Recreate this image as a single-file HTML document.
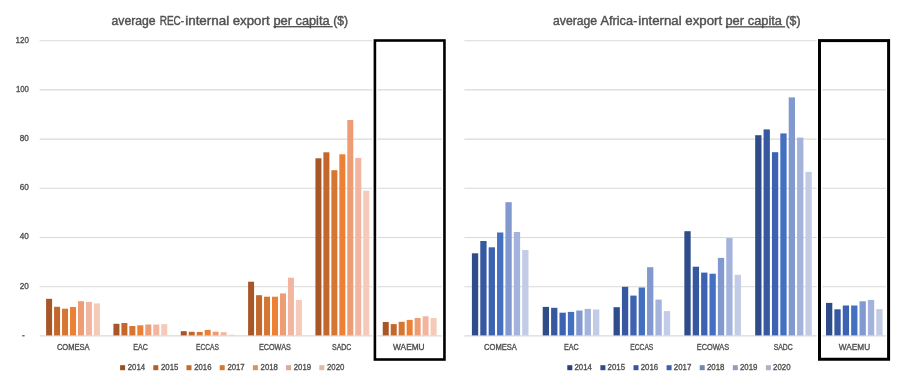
<!DOCTYPE html>
<html><head><meta charset="utf-8"><style>
html,body{margin:0;padding:0;background:#fff;width:900px;height:388px;overflow:hidden}
svg{display:block;will-change:transform}
</style></head><body>
<svg width="900" height="388" viewBox="0 0 900 388">
<rect width="900" height="388" fill="#fff"/>
<line x1="39.6" y1="40.70" x2="443" y2="40.70" stroke="#D9D9D9" stroke-width="1.1"/>
<line x1="464.4" y1="40.70" x2="887" y2="40.70" stroke="#D9D9D9" stroke-width="1.1"/>
<line x1="39.6" y1="89.90" x2="443" y2="89.90" stroke="#D9D9D9" stroke-width="1.1"/>
<line x1="464.4" y1="89.90" x2="887" y2="89.90" stroke="#D9D9D9" stroke-width="1.1"/>
<line x1="39.6" y1="139.10" x2="443" y2="139.10" stroke="#D9D9D9" stroke-width="1.1"/>
<line x1="464.4" y1="139.10" x2="887" y2="139.10" stroke="#D9D9D9" stroke-width="1.1"/>
<line x1="39.6" y1="188.30" x2="443" y2="188.30" stroke="#D9D9D9" stroke-width="1.1"/>
<line x1="464.4" y1="188.30" x2="887" y2="188.30" stroke="#D9D9D9" stroke-width="1.1"/>
<line x1="39.6" y1="237.50" x2="443" y2="237.50" stroke="#D9D9D9" stroke-width="1.1"/>
<line x1="464.4" y1="237.50" x2="887" y2="237.50" stroke="#D9D9D9" stroke-width="1.1"/>
<line x1="39.6" y1="286.70" x2="443" y2="286.70" stroke="#D9D9D9" stroke-width="1.1"/>
<line x1="464.4" y1="286.70" x2="887" y2="286.70" stroke="#D9D9D9" stroke-width="1.1"/>
<line x1="39.6" y1="335.90" x2="443" y2="335.90" stroke="#D9D9D9" stroke-width="1.1"/>
<line x1="464.4" y1="335.90" x2="887" y2="335.90" stroke="#D9D9D9" stroke-width="1.1"/>
<text x="15.50" y="42.50" textLength="13.4" lengthAdjust="spacingAndGlyphs" font-size="8.6" fill="#505050" stroke="#505050" stroke-width="0.35" font-family="Liberation Sans, sans-serif">120</text>
<text x="15.90" y="91.70" textLength="13.0" lengthAdjust="spacingAndGlyphs" font-size="8.6" fill="#505050" stroke="#505050" stroke-width="0.35" font-family="Liberation Sans, sans-serif">100</text>
<text x="19.80" y="140.90" textLength="9.1" lengthAdjust="spacingAndGlyphs" font-size="8.6" fill="#505050" stroke="#505050" stroke-width="0.35" font-family="Liberation Sans, sans-serif">80</text>
<text x="19.80" y="190.10" textLength="9.1" lengthAdjust="spacingAndGlyphs" font-size="8.6" fill="#505050" stroke="#505050" stroke-width="0.35" font-family="Liberation Sans, sans-serif">60</text>
<text x="19.80" y="239.30" textLength="9.1" lengthAdjust="spacingAndGlyphs" font-size="8.6" fill="#505050" stroke="#505050" stroke-width="0.35" font-family="Liberation Sans, sans-serif">40</text>
<text x="19.80" y="288.50" textLength="9.1" lengthAdjust="spacingAndGlyphs" font-size="8.6" fill="#505050" stroke="#505050" stroke-width="0.35" font-family="Liberation Sans, sans-serif">20</text>
<rect x="22.2" y="335.15" width="2.4" height="1.25" fill="#505050"/>
<rect x="46.10" y="298.80" width="6.00" height="36.60" fill="#A85628"/>
<rect x="471.90" y="253.30" width="6.30" height="82.10" fill="#2F4C8A"/>
<rect x="54.07" y="306.80" width="6.00" height="28.60" fill="#C3672A"/>
<rect x="480.28" y="241.00" width="6.30" height="94.40" fill="#3558A0"/>
<rect x="62.04" y="308.70" width="6.00" height="26.70" fill="#D67633"/>
<rect x="488.66" y="247.30" width="6.30" height="88.10" fill="#3D62B2"/>
<rect x="70.01" y="307.00" width="6.00" height="28.40" fill="#EC8034"/>
<rect x="497.04" y="232.50" width="6.30" height="102.90" fill="#4470C2"/>
<rect x="77.98" y="301.20" width="6.00" height="34.20" fill="#EE9C74"/>
<rect x="505.42" y="202.20" width="6.30" height="133.20" fill="#8199CF"/>
<rect x="85.95" y="301.90" width="6.00" height="33.50" fill="#F2B5A0"/>
<rect x="513.80" y="232.00" width="6.30" height="103.40" fill="#A4B3DB"/>
<rect x="93.92" y="303.40" width="6.00" height="32.00" fill="#F5CAB9"/>
<rect x="522.18" y="250.00" width="6.30" height="85.40" fill="#C3CCE6"/>
<rect x="113.43" y="323.80" width="6.00" height="11.60" fill="#A85628"/>
<rect x="542.72" y="306.90" width="6.30" height="28.50" fill="#2F4C8A"/>
<rect x="121.40" y="323.00" width="6.00" height="12.40" fill="#C3672A"/>
<rect x="551.10" y="307.80" width="6.30" height="27.60" fill="#3558A0"/>
<rect x="129.37" y="326.00" width="6.00" height="9.40" fill="#D67633"/>
<rect x="559.48" y="312.70" width="6.30" height="22.70" fill="#3D62B2"/>
<rect x="137.34" y="325.30" width="6.00" height="10.10" fill="#EC8034"/>
<rect x="567.86" y="311.90" width="6.30" height="23.50" fill="#4470C2"/>
<rect x="145.31" y="324.50" width="6.00" height="10.90" fill="#EE9C74"/>
<rect x="576.24" y="310.50" width="6.30" height="24.90" fill="#8199CF"/>
<rect x="153.28" y="324.50" width="6.00" height="10.90" fill="#F2B5A0"/>
<rect x="584.62" y="308.90" width="6.30" height="26.50" fill="#A4B3DB"/>
<rect x="161.25" y="324.10" width="6.00" height="11.30" fill="#F5CAB9"/>
<rect x="593.00" y="309.50" width="6.30" height="25.90" fill="#C3CCE6"/>
<rect x="180.76" y="331.20" width="6.00" height="4.20" fill="#A85628"/>
<rect x="613.54" y="307.20" width="6.30" height="28.20" fill="#2F4C8A"/>
<rect x="188.73" y="331.80" width="6.00" height="3.60" fill="#C3672A"/>
<rect x="621.92" y="286.80" width="6.30" height="48.60" fill="#3558A0"/>
<rect x="196.70" y="332.00" width="6.00" height="3.40" fill="#D67633"/>
<rect x="630.30" y="295.60" width="6.30" height="39.80" fill="#3D62B2"/>
<rect x="204.67" y="329.90" width="6.00" height="5.50" fill="#EC8034"/>
<rect x="638.68" y="287.50" width="6.30" height="47.90" fill="#4470C2"/>
<rect x="212.64" y="331.70" width="6.00" height="3.70" fill="#EE9C74"/>
<rect x="647.06" y="267.20" width="6.30" height="68.20" fill="#8199CF"/>
<rect x="220.61" y="332.20" width="6.00" height="3.20" fill="#F2B5A0"/>
<rect x="655.44" y="299.60" width="6.30" height="35.80" fill="#A4B3DB"/>
<rect x="228.58" y="334.70" width="6.00" height="0.70" fill="#F5CAB9"/>
<rect x="663.82" y="311.10" width="6.30" height="24.30" fill="#C3CCE6"/>
<rect x="248.09" y="281.70" width="6.00" height="53.70" fill="#A85628"/>
<rect x="684.36" y="231.20" width="6.30" height="104.20" fill="#2F4C8A"/>
<rect x="256.06" y="295.20" width="6.00" height="40.20" fill="#C3672A"/>
<rect x="692.74" y="266.70" width="6.30" height="68.70" fill="#3558A0"/>
<rect x="264.03" y="296.70" width="6.00" height="38.70" fill="#D67633"/>
<rect x="701.12" y="272.60" width="6.30" height="62.80" fill="#3D62B2"/>
<rect x="272.00" y="296.70" width="6.00" height="38.70" fill="#EC8034"/>
<rect x="709.50" y="273.70" width="6.30" height="61.70" fill="#4470C2"/>
<rect x="279.97" y="293.40" width="6.00" height="42.00" fill="#EE9C74"/>
<rect x="717.88" y="257.90" width="6.30" height="77.50" fill="#8199CF"/>
<rect x="287.94" y="277.70" width="6.00" height="57.70" fill="#F2B5A0"/>
<rect x="726.26" y="238.10" width="6.30" height="97.30" fill="#A4B3DB"/>
<rect x="295.91" y="299.90" width="6.00" height="35.50" fill="#F5CAB9"/>
<rect x="734.64" y="274.80" width="6.30" height="60.60" fill="#C3CCE6"/>
<rect x="315.42" y="158.30" width="6.00" height="177.10" fill="#A85628"/>
<rect x="755.18" y="135.20" width="6.30" height="200.20" fill="#2F4C8A"/>
<rect x="323.39" y="152.30" width="6.00" height="183.10" fill="#C3672A"/>
<rect x="763.56" y="129.40" width="6.30" height="206.00" fill="#3558A0"/>
<rect x="331.36" y="170.20" width="6.00" height="165.20" fill="#D67633"/>
<rect x="771.94" y="152.20" width="6.30" height="183.20" fill="#3D62B2"/>
<rect x="339.33" y="154.30" width="6.00" height="181.10" fill="#EC8034"/>
<rect x="780.32" y="133.40" width="6.30" height="202.00" fill="#4470C2"/>
<rect x="347.30" y="120.00" width="6.00" height="215.40" fill="#EE9C74"/>
<rect x="788.70" y="97.40" width="6.30" height="238.00" fill="#8199CF"/>
<rect x="355.27" y="157.90" width="6.00" height="177.50" fill="#F2B5A0"/>
<rect x="797.08" y="137.60" width="6.30" height="197.80" fill="#A4B3DB"/>
<rect x="363.24" y="190.70" width="6.00" height="144.70" fill="#F5CAB9"/>
<rect x="805.46" y="171.90" width="6.30" height="163.50" fill="#C3CCE6"/>
<rect x="382.75" y="322.00" width="6.00" height="13.40" fill="#A85628"/>
<rect x="826.00" y="302.90" width="6.30" height="32.50" fill="#2F4C8A"/>
<rect x="390.72" y="324.10" width="6.00" height="11.30" fill="#C3672A"/>
<rect x="834.38" y="309.30" width="6.30" height="26.10" fill="#3558A0"/>
<rect x="398.69" y="321.80" width="6.00" height="13.60" fill="#D67633"/>
<rect x="842.76" y="305.50" width="6.30" height="29.90" fill="#3D62B2"/>
<rect x="406.66" y="319.90" width="6.00" height="15.50" fill="#EC8034"/>
<rect x="851.14" y="305.50" width="6.30" height="29.90" fill="#4470C2"/>
<rect x="414.63" y="318.00" width="6.00" height="17.40" fill="#EE9C74"/>
<rect x="859.52" y="301.30" width="6.30" height="34.10" fill="#8199CF"/>
<rect x="422.60" y="316.30" width="6.00" height="19.10" fill="#F2B5A0"/>
<rect x="867.90" y="299.90" width="6.30" height="35.50" fill="#A4B3DB"/>
<rect x="430.57" y="318.00" width="6.00" height="17.40" fill="#F5CAB9"/>
<rect x="876.28" y="309.10" width="6.30" height="26.30" fill="#C3CCE6"/>
<text x="56.90" y="349.9" textLength="32.7" lengthAdjust="spacingAndGlyphs" font-size="8.5" fill="#505050" stroke="#505050" stroke-width="0.35" font-family="Liberation Sans, sans-serif">COMESA</text>
<text x="484.10" y="349.9" textLength="32.8" lengthAdjust="spacingAndGlyphs" font-size="8.5" fill="#505050" stroke="#505050" stroke-width="0.35" font-family="Liberation Sans, sans-serif">COMESA</text>
<text x="133.30" y="349.9" textLength="14.5" lengthAdjust="spacingAndGlyphs" font-size="8.5" fill="#505050" stroke="#505050" stroke-width="0.35" font-family="Liberation Sans, sans-serif">EAC</text>
<text x="563.90" y="349.9" textLength="14.7" lengthAdjust="spacingAndGlyphs" font-size="8.5" fill="#505050" stroke="#505050" stroke-width="0.35" font-family="Liberation Sans, sans-serif">EAC</text>
<text x="196.00" y="349.9" textLength="22.9" lengthAdjust="spacingAndGlyphs" font-size="8.5" fill="#505050" stroke="#505050" stroke-width="0.35" font-family="Liberation Sans, sans-serif">ECCAS</text>
<text x="630.30" y="349.9" textLength="23.0" lengthAdjust="spacingAndGlyphs" font-size="8.5" fill="#505050" stroke="#505050" stroke-width="0.35" font-family="Liberation Sans, sans-serif">ECCAS</text>
<text x="258.90" y="349.9" textLength="32.0" lengthAdjust="spacingAndGlyphs" font-size="8.5" fill="#505050" stroke="#505050" stroke-width="0.35" font-family="Liberation Sans, sans-serif">ECOWAS</text>
<text x="696.80" y="349.9" textLength="32.3" lengthAdjust="spacingAndGlyphs" font-size="8.5" fill="#505050" stroke="#505050" stroke-width="0.35" font-family="Liberation Sans, sans-serif">ECOWAS</text>
<text x="332.00" y="349.9" textLength="19.4" lengthAdjust="spacingAndGlyphs" font-size="8.5" fill="#505050" stroke="#505050" stroke-width="0.35" font-family="Liberation Sans, sans-serif">SADC</text>
<text x="773.70" y="349.9" textLength="19.1" lengthAdjust="spacingAndGlyphs" font-size="8.5" fill="#505050" stroke="#505050" stroke-width="0.35" font-family="Liberation Sans, sans-serif">SADC</text>
<text x="393.10" y="349.9" textLength="31.5" lengthAdjust="spacingAndGlyphs" font-size="8.5" fill="#505050" stroke="#505050" stroke-width="0.35" font-family="Liberation Sans, sans-serif">WAEMU</text>
<text x="838.80" y="349.9" textLength="31.3" lengthAdjust="spacingAndGlyphs" font-size="8.5" fill="#505050" stroke="#505050" stroke-width="0.35" font-family="Liberation Sans, sans-serif">WAEMU</text>
<rect x="120.10" y="365.20" width="5.00" height="5.00" fill="#9A4F24"/>
<text x="127.80" y="369.85" textLength="17.3" lengthAdjust="spacingAndGlyphs" font-size="8.8" fill="#505050" stroke="#505050" stroke-width="0.35" font-family="Liberation Sans, sans-serif">2014</text>
<rect x="567.30" y="365.20" width="5.00" height="5.00" fill="#294279"/>
<text x="574.50" y="369.85" textLength="17.5" lengthAdjust="spacingAndGlyphs" font-size="8.8" fill="#505050" stroke="#505050" stroke-width="0.35" font-family="Liberation Sans, sans-serif">2014</text>
<rect x="153.30" y="365.20" width="5.00" height="5.00" fill="#B35E26"/>
<text x="161.00" y="369.85" textLength="17.3" lengthAdjust="spacingAndGlyphs" font-size="8.8" fill="#505050" stroke="#505050" stroke-width="0.35" font-family="Liberation Sans, sans-serif">2015</text>
<rect x="600.40" y="365.20" width="5.00" height="5.00" fill="#2E4D8C"/>
<text x="607.60" y="369.85" textLength="17.5" lengthAdjust="spacingAndGlyphs" font-size="8.8" fill="#505050" stroke="#505050" stroke-width="0.35" font-family="Liberation Sans, sans-serif">2015</text>
<rect x="186.50" y="365.20" width="5.00" height="5.00" fill="#C46C2E"/>
<text x="194.20" y="369.85" textLength="17.3" lengthAdjust="spacingAndGlyphs" font-size="8.8" fill="#505050" stroke="#505050" stroke-width="0.35" font-family="Liberation Sans, sans-serif">2016</text>
<rect x="633.50" y="365.20" width="5.00" height="5.00" fill="#35569C"/>
<text x="640.70" y="369.85" textLength="17.5" lengthAdjust="spacingAndGlyphs" font-size="8.8" fill="#505050" stroke="#505050" stroke-width="0.35" font-family="Liberation Sans, sans-serif">2016</text>
<rect x="219.70" y="365.20" width="5.00" height="5.00" fill="#D9752F"/>
<text x="227.40" y="369.85" textLength="17.3" lengthAdjust="spacingAndGlyphs" font-size="8.8" fill="#505050" stroke="#505050" stroke-width="0.35" font-family="Liberation Sans, sans-serif">2017</text>
<rect x="666.60" y="365.20" width="5.00" height="5.00" fill="#3B62AA"/>
<text x="673.80" y="369.85" textLength="17.5" lengthAdjust="spacingAndGlyphs" font-size="8.8" fill="#505050" stroke="#505050" stroke-width="0.35" font-family="Liberation Sans, sans-serif">2017</text>
<rect x="252.90" y="365.20" width="5.00" height="5.00" fill="#DA8F6A"/>
<text x="260.60" y="369.85" textLength="17.3" lengthAdjust="spacingAndGlyphs" font-size="8.8" fill="#505050" stroke="#505050" stroke-width="0.35" font-family="Liberation Sans, sans-serif">2018</text>
<rect x="699.70" y="365.20" width="5.00" height="5.00" fill="#7186B6"/>
<text x="706.90" y="369.85" textLength="17.5" lengthAdjust="spacingAndGlyphs" font-size="8.8" fill="#505050" stroke="#505050" stroke-width="0.35" font-family="Liberation Sans, sans-serif">2018</text>
<rect x="286.10" y="365.20" width="5.00" height="5.00" fill="#DEA693"/>
<text x="293.80" y="369.85" textLength="17.3" lengthAdjust="spacingAndGlyphs" font-size="8.8" fill="#505050" stroke="#505050" stroke-width="0.35" font-family="Liberation Sans, sans-serif">2019</text>
<rect x="732.80" y="365.20" width="5.00" height="5.00" fill="#909DC0"/>
<text x="740.00" y="369.85" textLength="17.5" lengthAdjust="spacingAndGlyphs" font-size="8.8" fill="#505050" stroke="#505050" stroke-width="0.35" font-family="Liberation Sans, sans-serif">2019</text>
<rect x="319.30" y="365.20" width="5.00" height="5.00" fill="#E1B9AA"/>
<text x="327.00" y="369.85" textLength="17.3" lengthAdjust="spacingAndGlyphs" font-size="8.8" fill="#505050" stroke="#505050" stroke-width="0.35" font-family="Liberation Sans, sans-serif">2020</text>
<rect x="765.90" y="365.20" width="5.00" height="5.00" fill="#ABB3CA"/>
<text x="773.10" y="369.85" textLength="17.5" lengthAdjust="spacingAndGlyphs" font-size="8.8" fill="#505050" stroke="#505050" stroke-width="0.35" font-family="Liberation Sans, sans-serif">2020</text>
<text x="111.50" y="24.5" textLength="44.10" lengthAdjust="spacingAndGlyphs" font-size="11.9" fill="#505050" stroke="#505050" stroke-width="0.4" font-family="Liberation Sans, sans-serif">average</text>
<text x="159.70" y="24.5" textLength="24.50" lengthAdjust="spacingAndGlyphs" font-size="11.9" fill="#505050" stroke="#505050" stroke-width="0.4" font-family="Liberation Sans, sans-serif">REC-</text>
<text x="185.20" y="24.5" textLength="44.00" lengthAdjust="spacingAndGlyphs" font-size="11.9" fill="#505050" stroke="#505050" stroke-width="0.4" font-family="Liberation Sans, sans-serif">internal</text>
<text x="232.70" y="24.5" textLength="36.90" lengthAdjust="spacingAndGlyphs" font-size="11.9" fill="#505050" stroke="#505050" stroke-width="0.4" font-family="Liberation Sans, sans-serif">export</text>
<text x="273.40" y="24.5" textLength="18.70" lengthAdjust="spacingAndGlyphs" font-size="11.9" fill="#505050" stroke="#505050" stroke-width="0.4" font-family="Liberation Sans, sans-serif">per</text>
<text x="295.50" y="24.5" textLength="34.10" lengthAdjust="spacingAndGlyphs" font-size="11.9" fill="#505050" stroke="#505050" stroke-width="0.4" font-family="Liberation Sans, sans-serif">capita</text>
<text x="333.20" y="24.5" textLength="14.90" lengthAdjust="spacingAndGlyphs" font-size="11.9" fill="#505050" stroke="#505050" stroke-width="0.4" font-family="Liberation Sans, sans-serif">(&#36;)</text>
<text x="553.00" y="24.5" textLength="44.10" lengthAdjust="spacingAndGlyphs" font-size="11.9" fill="#505050" stroke="#505050" stroke-width="0.4" font-family="Liberation Sans, sans-serif">average</text>
<text x="600.50" y="24.5" textLength="36.70" lengthAdjust="spacingAndGlyphs" font-size="11.9" fill="#505050" stroke="#505050" stroke-width="0.4" font-family="Liberation Sans, sans-serif">Africa-</text>
<text x="638.20" y="24.5" textLength="43.40" lengthAdjust="spacingAndGlyphs" font-size="11.9" fill="#505050" stroke="#505050" stroke-width="0.4" font-family="Liberation Sans, sans-serif">internal</text>
<text x="685.30" y="24.5" textLength="36.90" lengthAdjust="spacingAndGlyphs" font-size="11.9" fill="#505050" stroke="#505050" stroke-width="0.4" font-family="Liberation Sans, sans-serif">export</text>
<text x="725.50" y="24.5" textLength="18.50" lengthAdjust="spacingAndGlyphs" font-size="11.9" fill="#505050" stroke="#505050" stroke-width="0.4" font-family="Liberation Sans, sans-serif">per</text>
<text x="747.80" y="24.5" textLength="34.10" lengthAdjust="spacingAndGlyphs" font-size="11.9" fill="#505050" stroke="#505050" stroke-width="0.4" font-family="Liberation Sans, sans-serif">capita</text>
<text x="785.50" y="24.5" textLength="15.00" lengthAdjust="spacingAndGlyphs" font-size="11.9" fill="#505050" stroke="#505050" stroke-width="0.4" font-family="Liberation Sans, sans-serif">(&#36;)</text>
<rect x="273.4" y="26.05" width="59.3" height="1.3" fill="#4A4A4A"/>
<rect x="725.9" y="26.2" width="59.3" height="1.3" fill="#4A4A4A"/>
<rect x="374.9" y="40.5" width="69.55" height="319.0" fill="none" stroke="#fff" stroke-width="5.2"/>
<rect x="819.5" y="40.6" width="69.1" height="318.65" fill="none" stroke="#fff" stroke-width="5.6"/>
<rect x="374.9" y="40.5" width="69.55" height="319.0" fill="none" stroke="#000" stroke-width="2.6"/>
<rect x="819.5" y="40.6" width="69.1" height="318.65" fill="none" stroke="#000" stroke-width="3.0"/>
</svg>
</body></html>
